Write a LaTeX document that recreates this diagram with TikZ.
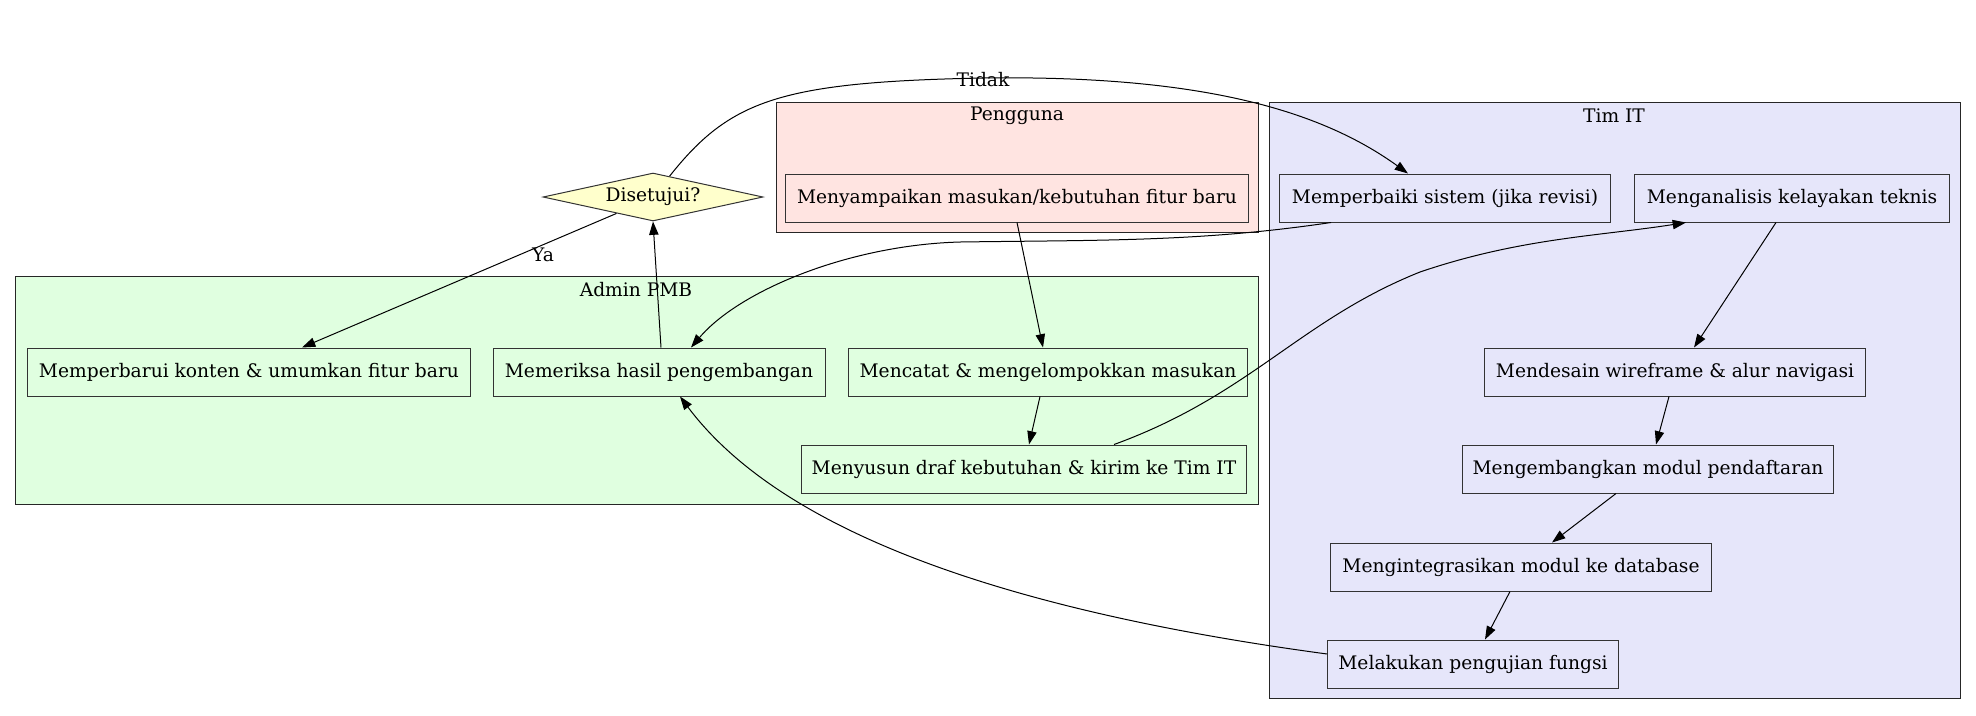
\documentclass[tikz,border=0pt]{standalone}
\usepackage{fontspec}
\setmainfont{DejaVu Serif}
\usetikzlibrary{arrows.meta,shapes.geometric,calc}
\definecolor{cpink}{HTML}{FFE4E1}
\definecolor{cgreen}{HTML}{E0FFE0}
\definecolor{cblue}{HTML}{E6E6FA}
\definecolor{cyellow}{HTML}{FFFFCC}
\tikzset{
  box/.style={draw=black!80, line width=0.75pt, rectangle, minimum height=36pt, inner sep=0pt, font=\fontsize{14}{16}\selectfont},
  dec/.style={draw=black!80, line width=0.75pt, diamond, aspect=4.6, fill=cyellow, minimum width=165pt, minimum height=36pt, inner sep=0pt, font=\fontsize{14}{16}\selectfont},
  cluster/.style={draw=black!85, line width=0.75pt},
  ctitle/.style={font=\fontsize{14}{16}\selectfont, inner sep=0pt},
  elabel/.style={font=\fontsize{14}{16}\selectfont, inner sep=0pt},
  edge/.style={line width=0.75pt, -{Triangle[length=10pt,width=7pt]}},
}
\begin{document}
\begin{tikzpicture}[x=0.75pt,y=-0.75pt]
\useasboundingbox (0,0) rectangle (1976,715);
% clusters
\draw[cluster, fill=cgreen] (15,276) rectangle (1258,504);
\draw[cluster, fill=cpink] (776,102) rectangle (1258,232);
\draw[cluster, fill=cblue] (1269,102) rectangle (1960,698);
\node[ctitle] (tadmin) at (636,290) {Admin PMB};
\node[ctitle] (tpeng) at (1017,116) {Pengguna};
\node[ctitle] (ttim) at (1614,116) {Tim IT};
% nodes
\node[dec] (dis) at (653,197) {Disetujui?};
\node[box, minimum width=347pt] (sampai) at (1017,198) {Menyampaikan masukan/kebutuhan fitur baru};
\node[box, minimum width=248pt] (baiki) at (1445,198) {Memperbaiki sistem (jika revisi)};
\node[box, minimum width=236pt] (analisis) at (1792,198) {Menganalisis kelayakan teknis};
\node[box, minimum width=332pt] (barui) at (249,372) {Memperbarui konten \& umumkan fitur baru};
\node[box, minimum width=249pt] (periksa) at (659,372) {Memeriksa hasil pengembangan};
\node[box, minimum width=299pt] (catat) at (1048,372) {Mencatat \& mengelompokkan masukan};
\node[box, minimum width=334pt] (susun) at (1024,469) {Menyusun draf kebutuhan \& kirim ke Tim IT};
\node[box, minimum width=286pt] (desain) at (1675,372) {Mendesain wireframe \& alur navigasi};
\node[box, minimum width=278pt] (kembang) at (1648,469) {Mengembangkan modul pendaftaran};
\node[box, minimum width=286pt] (integ) at (1521,567) {Mengintegrasikan modul ke database};
\node[box, minimum width=218pt] (uji) at (1473,664) {Melakukan pengujian fungsi};
% edges
\draw[edge] (sampai.south) -- ($(catat.north)+(-5,0)$);
\draw[edge] ($(catat.south)+(-8,0)$) -- ($(susun.north)+(5,0)$);
\draw[edge] ($(susun.north)+(90,0)$) .. controls (1250,395) and (1300,320) .. (1420,272) .. controls (1520,238) and (1600,236) .. ($(analisis.south)+(-106,0)$);
\draw[edge] ($(analisis.south)+(-16,0)$) -- ($(desain.north)+(19,0)$);
\draw[edge] ($(desain.south)+(-6,0)$) -- ($(kembang.north)+(8,0)$);
\draw[edge] ($(kembang.south)+(-32,0)$) -- ($(integ.north)+(31,0)$);
\draw[edge] ($(integ.south)+(-11,0)$) -- ($(uji.north)+(12,0)$);
\draw[edge] ($(uji.west)+(0,-10)$) .. controls (1000,610) and (780,530) .. ($(periksa.south)+(21,0)$);
\draw[edge] ($(periksa.north)+(2,0)$) -- (dis.south);
\draw[edge] ($(dis.west)!0.67!(dis.south)$) -- ($(barui.north)+(53,0)$);
\node[elabel] (lya) at (543,255) {Ya};
\draw[edge] ($(dis.north)!0.15!(dis.east)$) .. controls (730,100) and (780,82) .. (983,78) .. controls (1200,75) and (1320,110) .. ($(baiki.north)+(-37,0)$);
\node[elabel] (ltidak) at (983,80) {Tidak};
\draw[edge] ($(baiki.south)+(-114,0)$) .. controls (1200,242) and (1100,240) .. (960,242) .. controls (850,245) and (740,290) .. ($(periksa.north)+(32,0)$);
\end{tikzpicture}
\end{document}
